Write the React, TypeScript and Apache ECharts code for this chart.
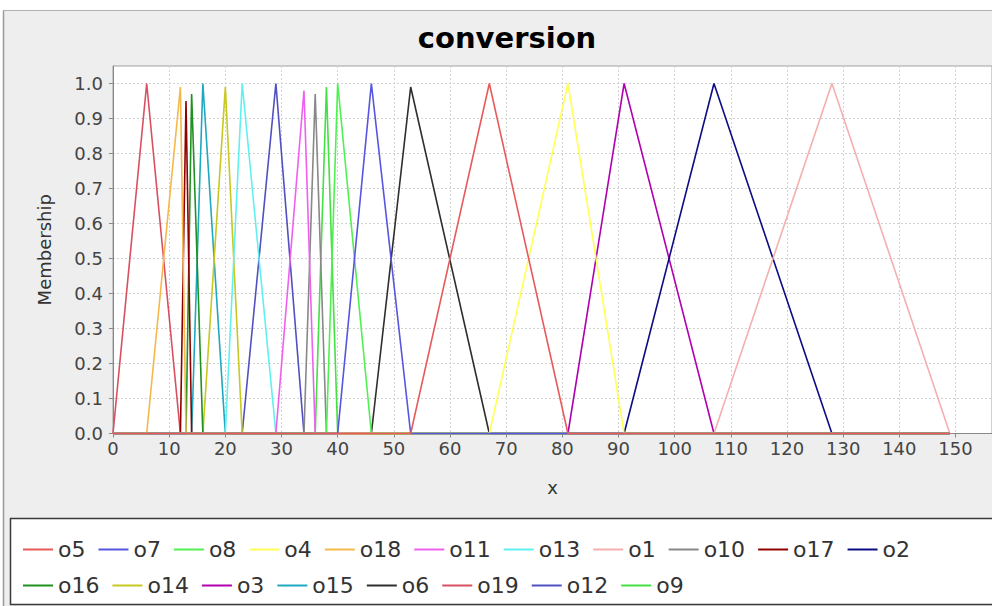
import React, { useEffect, useRef } from "react";
import * as echarts from "echarts";

// Membership function terms (triangular: start, peak, end)
const termNames = ["o1", "o2", "o3", "o4", "o5", "o6", "o7", "o8", "o9", "o10", "o11", "o12", "o13", "o14", "o15", "o16", "o17", "o18", "o19"];
const startX = [107, 91, 81, 67, 53, 46, 40, 38, 36, 34, 29, 23, 20, 16, 14, 13, 12, 6, 0];
const peakX = [128, 107, 91, 81, 67, 53, 46, 40, 38, 36, 34, 29, 23, 20, 16, 14, 13, 12, 6];
const endX = [149, 128, 107, 91, 81, 67, 53, 46, 40, 38, 36, 34, 29, 23, 20, 16, 14, 13, 12];
const peakY = [1, 1, 1, 1, 1, 0.99, 1, 1, 0.99, 0.97, 0.98, 1, 1, 0.99, 1, 0.97, 0.95, 0.99, 1];
const universe = [0, 149];

const legendOrder = ["o5", "o7", "o8", "o4", "o18", "o11", "o13", "o1", "o10", "o17", "o2", "o16", "o14", "o3", "o15", "o6", "o19", "o12", "o9"];

const termColors: Record<string, string> = {
  o1: "#F4AFAF",
  o2: "#0C0C84",
  o3: "#B000B0",
  o4: "#FFFF55",
  o5: "#E85A5A",
  o6: "#2E2E2E",
  o7: "#5555E0",
  o8: "#50F050",
  o9: "#44E044",
  o10: "#888888",
  o11: "#F060F0",
  o12: "#5050C0",
  o13: "#60F0F0",
  o14: "#C8C820",
  o15: "#20A8C0",
  o16: "#209020",
  o17: "#900000",
  o18: "#F5B84A",
  o19: "#D85060",
};

const FONT = "DejaVu Sans";

export default function App() {
  const ref = useRef<HTMLDivElement>(null);

  useEffect(() => {
    const chart = echarts.init(ref.current!, undefined, { renderer: "svg" });

    const seriesByName: Record<string, any> = {};
    termNames.forEach((n, i) => {
      seriesByName[n] = {
        type: "line",
        name: n,
        data: [
          [universe[0], 0],
          [startX[i], 0],
          [peakX[i], peakY[i]],
          [endX[i], 0],
          [universe[1], 0],
        ],
        symbol: "none",
        clip: false,
        silent: true,
        lineStyle: { width: 1.6, color: termColors[n] },
        itemStyle: { color: termColors[n] },
        emphasis: { disabled: true },
      };
    });
    // JFreeChart draws in reverse order: first legend item on top
    const series = legendOrder.slice().reverse().map((n) => seriesByName[n]);

    chart.setOption({
      animation: false,
      backgroundColor: "#EEEEEE",
      graphic: [
        { type: "rect", shape: { x: 0, y: 0, width: 992, height: 10 }, style: { fill: "#ffffff" }, z: 0 },
        { type: "rect", shape: { x: 0, y: 0, width: 3, height: 606 }, style: { fill: "#ffffff" }, z: 0 },
        { type: "line", shape: { x1: 3.5, y1: 10.5, x2: 992, y2: 10.5 }, style: { stroke: "#b0b0b0", lineWidth: 1 }, z: 1 },
        { type: "line", shape: { x1: 3.5, y1: 10.5, x2: 3.5, y2: 606 }, style: { stroke: "#9a9a9a", lineWidth: 1.5 }, z: 1 },
        {
          type: "rect",
          shape: { x: 10.5, y: 518.5, width: 1000, height: 86 },
          style: { fill: "#ffffff", stroke: "#3a3a3a", lineWidth: 1.5 },
          z: 1,
        },
        {
          type: "text",
          x: 507,
          y: 38,
          style: {
            text: "conversion",
            font: `bold 29px "${FONT}"`,
            fill: "#000000",
            textAlign: "center",
            verticalAlign: "middle",
          },
          z: 5,
        },
      ],
      grid: {
        left: 113,
        top: 66,
        right: -3,
        bottom: 172.5,
        show: true,
        backgroundColor: "#ffffff",
        borderColor: "#a0a0a0",
        borderWidth: 1,
      },
      legend: {
        data: legendOrder,
        left: 18,
        top: 533,
        width: 960,
        itemWidth: 30,
        itemHeight: 2,
        itemGap: 13,
        icon: "rect",
        selectedMode: false,
        textStyle: { fontFamily: FONT, fontSize: 22, lineHeight: 23, color: "#333333" },
      },
      xAxis: {
        type: "value",
        min: 0,
        max: 156.5,
        interval: 10,
        name: "x",
        nameLocation: "middle",
        nameGap: 45,
        nameTextStyle: { fontFamily: FONT, fontSize: 18, color: "#333333" },
        axisLine: { show: true, onZero: false, lineStyle: { color: "#888888" } },
        axisTick: { show: true, length: 4, lineStyle: { color: "#888888" } },
        axisLabel: { fontFamily: FONT, fontSize: 18, color: "#444444", margin: 6, showMaxLabel: false },
        splitLine: { show: true, lineStyle: { color: "#d2d2d2", type: [2, 2] } },
      },
      yAxis: {
        type: "value",
        min: 0,
        max: 1.05,
        interval: 0.1,
        name: "Membership",
        nameLocation: "middle",
        nameGap: 60,
        nameTextStyle: { fontFamily: FONT, fontSize: 18, color: "#333333" },
        axisLine: { show: true, lineStyle: { color: "#888888" } },
        axisTick: { show: true, length: 4, lineStyle: { color: "#888888" } },
        axisLabel: {
          fontFamily: FONT,
          fontSize: 18,
          color: "#444444",
          margin: 10,
          showMaxLabel: false,
          formatter: (v: number) => v.toFixed(1),
        },
        splitLine: { show: true, lineStyle: { color: "#d2d2d2", type: [2, 2] } },
      },
      series,
    });

    return () => chart.dispose();
  }, []);

  return (
    <div
      ref={ref}
      style={{ position: "absolute", left: 0, top: 0, width: 992, height: 606, background: "#ffffff" }}
    />
  );
}
